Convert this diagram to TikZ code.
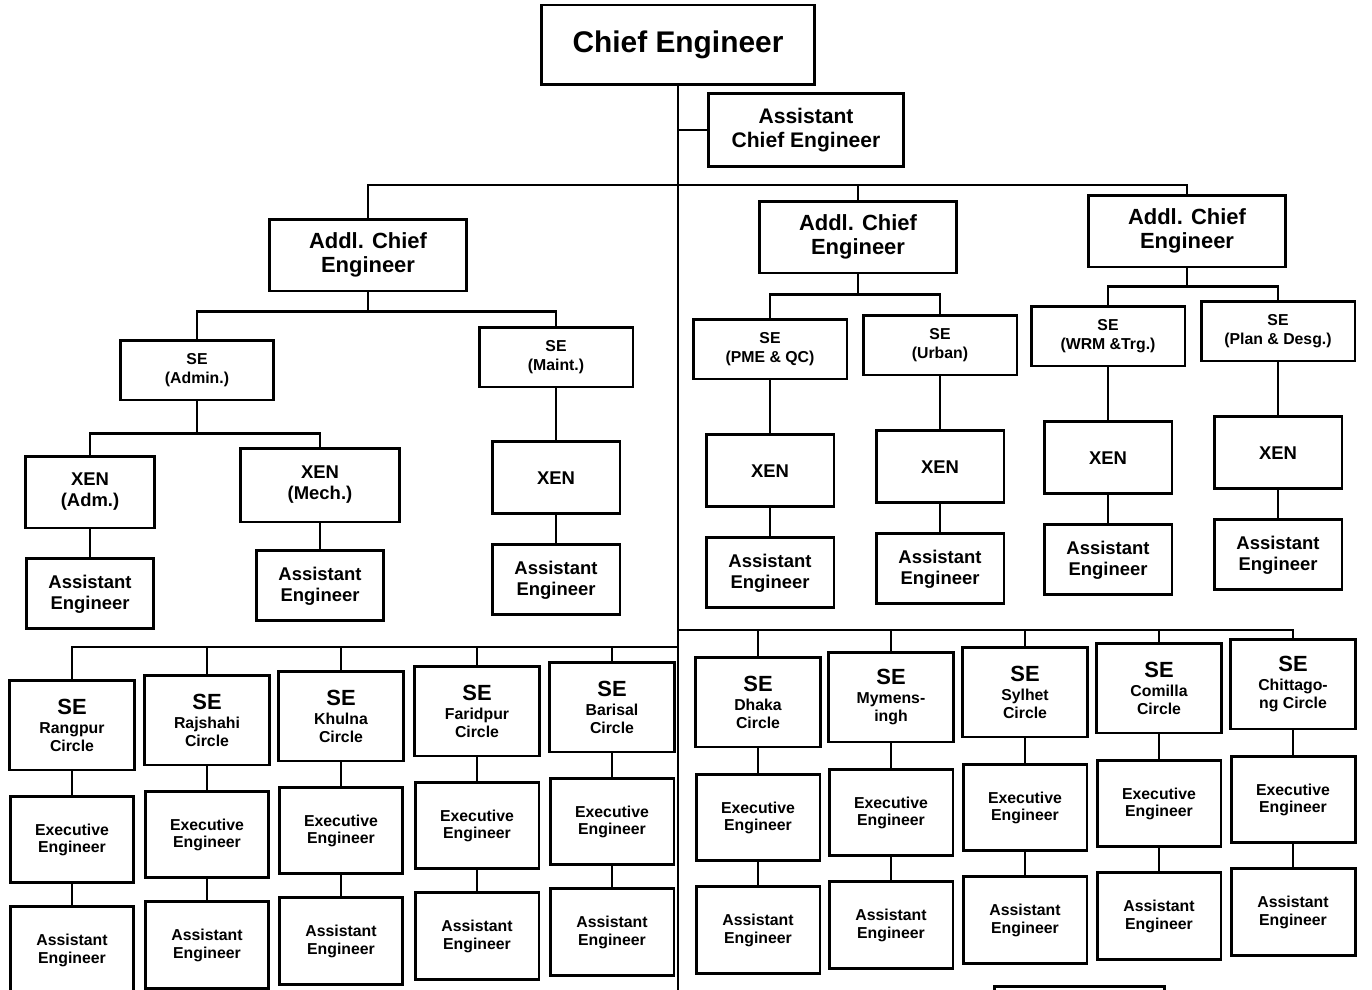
\documentclass[tikz,border=0pt]{standalone}
\usepackage{fontspec}
\setmainfont{Liberation Sans}
\usetikzlibrary{positioning}
\tikzset{
	box/.style={draw,line width=1.7pt,align=center,inner sep=1pt,fill=white},
	chiefbox/.style={box,minimum width=5.46cm,minimum height=1.6cm,font=\bfseries\fontsize{17}{20}\selectfont},
	asstbox/.style={box,minimum width=3.9cm,minimum height=1.46cm,font=\bfseries\fontsize{12}{14}\selectfont},
	addlbox/.style={box,minimum width=3.94cm,minimum height=1.44cm,font=\bfseries\fontsize{12.5}{14}\selectfont},
	sebox/.style={box,minimum width=3.08cm,minimum height=1.2cm,font=\bfseries\fontsize{9}{10.8}\selectfont},
	xenbox/.style={box,minimum width=2.56cm,minimum height=1.44cm,font=\bfseries\fontsize{10.5}{12}\selectfont},
	aebox/.style={box,minimum width=2.56cm,minimum height=1.4cm,font=\bfseries\fontsize{10.5}{12}\selectfont},
	circlebox/.style={box,minimum width=2.5cm,minimum height=1.8cm,font=\bfseries\fontsize{9}{10}\selectfont},
	execbox/.style={box,minimum width=2.48cm,minimum height=1.72cm,font=\bfseries\fontsize{9}{10}\selectfont},
	asbox/.style={box,minimum width=2.48cm,minimum height=1.74cm,font=\bfseries\fontsize{9}{10}\selectfont},
	link/.style={draw,line width=1.5pt},
}
\newcommand{\bigse}{{\fontsize{12.5}{14}\selectfont SE}\\[1pt]}

\begin{document}
\begin{tikzpicture}[x=0.02cm,y=-0.02cm]
	\useasboundingbox (0,0) rectangle (1372,990);
	
	% Top
	\node[chiefbox] (chief) at (678,45) {Chief Engineer};
	\node[asstbox] (asstchief) at (806,130) {Assistant\\Chief Engineer};
	\coordinate (trunkend) at (678,1000);
	\coordinate (bustop) at (678,185);
	
	\node[addlbox] (addlleft) at (368,255) {Addl. Chief\\Engineer};
	\node[addlbox] (addlmid) at (858,237) {Addl. Chief\\Engineer};
	\node[addlbox] (addlright) at (1187,231) {Addl. Chief\\Engineer};
	
	% Upper left
	\node[sebox] (seadmin) at (197,370) {SE\\(Admin.)};
	\node[sebox] (semaint) at (556,357) {SE\\(Maint.)};
	\node[xenbox,minimum width=2.58cm] (xenadm) at (90,492) {XEN\\(Adm.)};
	\node[xenbox,minimum width=3.2cm,minimum height=1.48cm] (xenmech) at (320,485) {XEN\\(Mech.)};
	\node[xenbox,below=1.04cm of semaint] (xenmaint) {XEN};
	\node[aebox,below=0.56cm of xenadm] (aeadm) {Assistant\\Engineer};
	\node[aebox,below=0.52cm of xenmech] (aemech) {Assistant\\Engineer};
	\node[aebox,below=0.56cm of xenmaint] (aemaint) {Assistant\\Engineer};
	
	% Upper right
	\node[sebox] (sepme) at (770,349) {SE\\(PME \& QC)};
	\node[sebox] (seurban) at (940,345) {SE\\(Urban)};
	\node[sebox] (sewrm) at (1108,336) {SE\\(WRM \&Trg.)};
	\node[sebox] (seplan) at (1278,331) {SE\\(Plan \& Desg.)};
	\node[xenbox,below=1.06cm of sepme] (xenpme) {XEN};
	\node[xenbox,below=1.06cm of seurban] (xenurban) {XEN};
	\node[xenbox,below=1.06cm of sewrm] (xenwrm) {XEN};
	\node[xenbox,below=1.06cm of seplan] (xenplan) {XEN};
	\node[aebox,below=0.56cm of xenpme] (aepme) {Assistant\\Engineer};
	\node[aebox,below=0.56cm of xenurban] (aeurban) {Assistant\\Engineer};
	\node[aebox,below=0.56cm of xenwrm] (aewrm) {Assistant\\Engineer};
	\node[aebox,below=0.56cm of xenplan] (aeplan) {Assistant\\Engineer};
	
	% Circles, left
	\coordinate (busleft) at (678,647);
	\node[circlebox] (serangpur) at (72,725) {\bigse Rangpur\\Circle};
	\node[circlebox] (serajshahi) at (207,720) {\bigse Rajshahi\\Circle};
	\node[circlebox] (sekhulna) at (341,716) {\bigse Khulna\\Circle};
	\node[circlebox] (sefaridpur) at (477,711) {\bigse Faridpur\\Circle};
	\node[circlebox] (sebarisal) at (612,707) {\bigse Barisal\\Circle};
	\node[execbox,below=0.48cm of serangpur] (xrangpur) {Executive\\Engineer};
	\node[execbox,below=0.48cm of serajshahi] (xrajshahi) {Executive\\Engineer};
	\node[execbox,below=0.48cm of sekhulna] (xkhulna) {Executive\\Engineer};
	\node[execbox,below=0.48cm of sefaridpur] (xfaridpur) {Executive\\Engineer};
	\node[execbox,below=0.48cm of sebarisal] (xbarisal) {Executive\\Engineer};
	\node[asbox,below=0.42cm of xrangpur] (arangpur) {Assistant\\Engineer};
	\node[asbox,below=0.42cm of xrajshahi] (arajshahi) {Assistant\\Engineer};
	\node[asbox,below=0.42cm of xkhulna] (akhulna) {Assistant\\Engineer};
	\node[asbox,below=0.42cm of xfaridpur] (afaridpur) {Assistant\\Engineer};
	\node[asbox,below=0.42cm of xbarisal] (abarisal) {Assistant\\Engineer};
	
	% Circles, right
	\coordinate (busright) at (678,630);
	\node[circlebox] (sedhaka) at (758,702) {\bigse Dhaka\\Circle};
	\node[circlebox] (semymen) at (891,697) {\bigse Mymens-\\ingh};
	\node[circlebox] (sesylhet) at (1025,692) {\bigse Sylhet\\Circle};
	\node[circlebox] (secomilla) at (1159,688) {\bigse Comilla\\Circle};
	\node[circlebox] (sechittagong) at (1293,684) {\bigse Chittago-\\ng Circle};
	\node[execbox,below=0.5cm of sedhaka] (xdhaka) {Executive\\Engineer};
	\node[execbox,below=0.5cm of semymen] (xmymen) {Executive\\Engineer};
	\node[execbox,below=0.5cm of sesylhet] (xsylhet) {Executive\\Engineer};
	\node[execbox,below=0.5cm of secomilla] (xcomilla) {Executive\\Engineer};
	\node[execbox,below=0.5cm of sechittagong] (xchittagong) {Executive\\Engineer};
	\node[asbox,below=0.46cm of xdhaka] (adhaka) {Assistant\\Engineer};
	\node[asbox,below=0.46cm of xmymen] (amymen) {Assistant\\Engineer};
	\node[asbox,below=0.46cm of xsylhet] (asylhet) {Assistant\\Engineer};
	\node[asbox,below=0.46cm of xcomilla] (acomilla) {Assistant\\Engineer};
	\node[asbox,below=0.46cm of xchittagong] (achittagong) {Assistant\\Engineer};
	
	% next box, cut off at the bottom
	\node[box,minimum width=3.4cm,minimum height=1cm,anchor=north west] (nextbox) at (993,985) {};
	
	% Draw connections
	\draw[link] (chief) -- (trunkend);
	\draw[link] (asstchief.west -| trunkend) -- (asstchief.west);
	\draw[link] (bustop) -| (addlleft.north);
	\draw[link] (bustop) -| (addlmid.north);
	\draw[link] (bustop) -| (addlright.north);
	
	\draw[link] (addlleft.south) -- ++(0,19) -| (seadmin.north);
	\draw[link] (addlleft.south) -- ++(0,19) -| (semaint.north);
	\draw[link] (seadmin.south) -- ++(0,32) -| (xenadm.north);
	\draw[link] (seadmin.south) -- ++(0,32) -| (xenmech.north);
	\draw[link] (semaint) -- (xenmaint);
	\draw[link] (xenadm) -- (aeadm);
	\draw[link] (xenmech) -- (aemech);
	\draw[link] (xenmaint) -- (aemaint);
	
	\draw[link] (addlmid.south) -- ++(0,20) -| (sepme.north);
	\draw[link] (addlmid.south) -- ++(0,20) -| (seurban.north);
	\draw[link] (addlright.south) -- ++(0,18) -| (sewrm.north);
	\draw[link] (addlright.south) -- ++(0,18) -| (seplan.north);
	\draw[link] (sepme) -- (xenpme);
	\draw[link] (seurban) -- (xenurban);
	\draw[link] (sewrm) -- (xenwrm);
	\draw[link] (seplan) -- (xenplan);
	\draw[link] (xenpme) -- (aepme);
	\draw[link] (xenurban) -- (aeurban);
	\draw[link] (xenwrm) -- (aewrm);
	\draw[link] (xenplan) -- (aeplan);
	
	\draw[link] (busleft) -| (serangpur.north);
	\draw[link] (busleft) -| (serajshahi.north);
	\draw[link] (busleft) -| (sekhulna.north);
	\draw[link] (busleft) -| (sefaridpur.north);
	\draw[link] (busleft) -| (sebarisal.north);
	\draw[link] (serangpur) -- (xrangpur);
	\draw[link] (serajshahi) -- (xrajshahi);
	\draw[link] (sekhulna) -- (xkhulna);
	\draw[link] (sefaridpur) -- (xfaridpur);
	\draw[link] (sebarisal) -- (xbarisal);
	\draw[link] (xrangpur) -- (arangpur);
	\draw[link] (xrajshahi) -- (arajshahi);
	\draw[link] (xkhulna) -- (akhulna);
	\draw[link] (xfaridpur) -- (afaridpur);
	\draw[link] (xbarisal) -- (abarisal);
	
	\draw[link] (busright) -| (sedhaka.north);
	\draw[link] (busright) -| (semymen.north);
	\draw[link] (busright) -| (sesylhet.north);
	\draw[link] (busright) -| (secomilla.north);
	\draw[link] (busright) -| (sechittagong.north);
	\draw[link] (sedhaka) -- (xdhaka);
	\draw[link] (semymen) -- (xmymen);
	\draw[link] (sesylhet) -- (xsylhet);
	\draw[link] (secomilla) -- (xcomilla);
	\draw[link] (sechittagong) -- (xchittagong);
	\draw[link] (xdhaka) -- (adhaka);
	\draw[link] (xmymen) -- (amymen);
	\draw[link] (xsylhet) -- (asylhet);
	\draw[link] (xcomilla) -- (acomilla);
	\draw[link] (xchittagong) -- (achittagong);
	
\end{tikzpicture}
\end{document}
